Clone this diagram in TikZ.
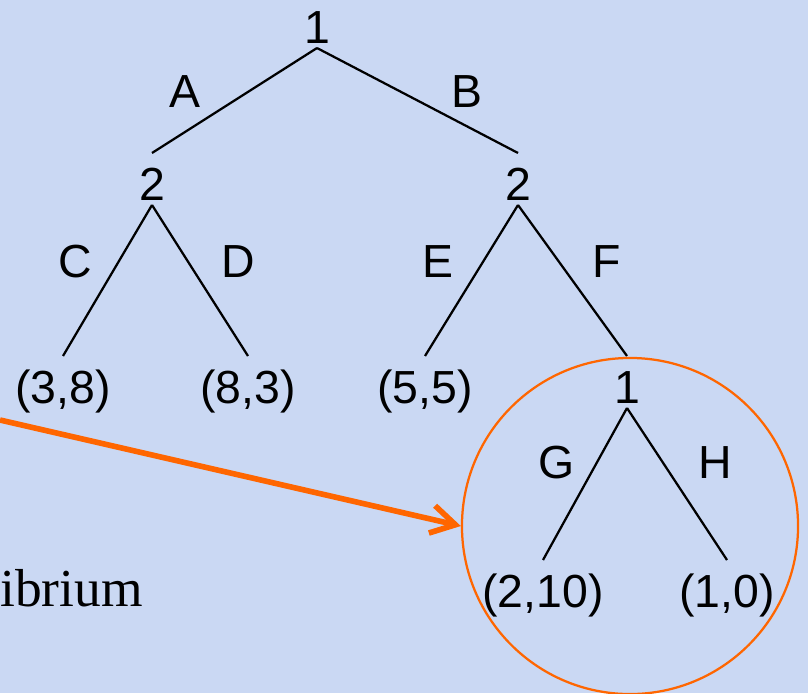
\documentclass[tikz,border=0pt]{standalone}
\usepackage{fontspec}
\setmainfont{Liberation Sans}
\newfontfamily\seriffont{Liberation Serif}
\usetikzlibrary{arrows.meta,shapes.geometric}
\definecolor{slidebg}{RGB}{202,216,243}
\definecolor{hilite}{RGB}{255,102,0}

\begin{document}
\begin{tikzpicture}[
        x=0.025cm, y=-0.025cm,
        every node/.style={font=\fontsize{33}{40}\selectfont},
        player/.style={inner sep=0pt, outer sep=0pt, anchor=base, text height=1.175cm, text depth=0.125cm},
        choice/.style={inner sep=0pt, anchor=base},
        branch/.style={draw=black, line width=1.6pt},
        focus/.style={draw=hilite, circle, line width=1.6pt, minimum size=8.4cm, inner sep=0pt},
        pointer/.style={draw=hilite, line width=4pt, -{Straight Barb[length=6mm, width=7mm]}}
    ]
        \fill[slidebg] (0,0) rectangle (808,693);
        \useasboundingbox (0,0) rectangle (808,693);

        % highlighted subgame
        \node[focus] (subgame) at (630,526) {};
        \coordinate (tail) at (0,420);
        \draw[pointer] (tail) -- (subgame.west);
        \node[font=\seriffont\fontsize{38}{44}\selectfont, anchor=base west, inner sep=0pt] (caption) at (0,606) {ibrium};

        % decision nodes and payoffs
        \node[player] (root) at (317,43) {1};
        \node[player] (left) at (152,200) {2};
        \node[player] (right) at (518,200) {2};
        \node[player] (pay38) at (63,403) {(3,8)};
        \node[player] (pay83) at (248,403) {(8,3)};
        \node[player] (pay55) at (425,403) {(5,5)};
        \node[player] (inner) at (627,403) {1};
        \node[player] (pay210) at (543,607) {(2,10)};
        \node[player] (pay10) at (727,607) {(1,0)};

        \draw[branch] (root.south) -- (left.north);
        \draw[branch] (root.south) -- (right.north);
        \draw[branch] (left.south) -- (pay38.north);
        \draw[branch] (left.south) -- (pay83.north);
        \draw[branch] (right.south) -- (pay55.north);
        \draw[branch] (right.south) -- (inner.north);
        \draw[branch] (inner.south) -- (pay210.north);
        \draw[branch] (inner.south) -- (pay10.north);

        % action labels
        \node[choice] (actA) at (185,107) {A};
        \node[choice] (actB) at (467,107) {B};
        \node[choice] (actC) at (75,277) {C};
        \node[choice] (actD) at (238,277) {D};
        \node[choice] (actE) at (438,277) {E};
        \node[choice] (actF) at (607,277) {F};
        \node[choice] (actG) at (557,478) {G};
        \node[choice] (actH) at (715,478) {H};
    \end{tikzpicture}
\end{document}
